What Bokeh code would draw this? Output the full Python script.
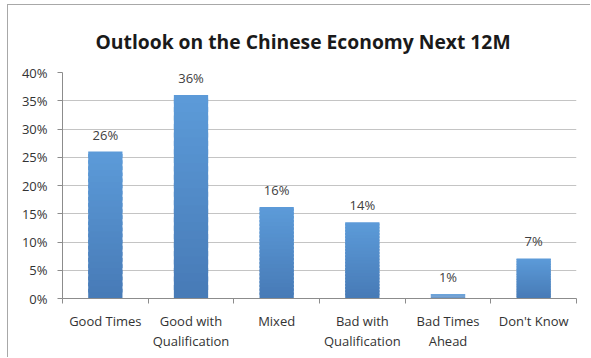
from bokeh.plotting import figure
from bokeh.models import ColumnDataSource, FixedTicker, PrintfTickFormatter, Range1d
from bokeh.embed import file_html
from bokeh.resources import INLINE
from bokeh.core.properties import value

categories = ["Good Times", "Good with\nQualification", "Mixed",
              "Bad with\nQualification", "Bad Times\nAhead", "Don't Know"]
values = [26.0, 36.0, 16.2, 13.5, 0.8, 7.1]
value_labels = ["26%", "36%", "16%", "14%", "1%", "7%"]
y_ticks = [0, 5, 10, 15, 20, 25, 30, 35, 40]

FONT = "Open Sans"
n = len(categories)
xs = [i + 0.5 for i in range(n)]

# vertical gradient (dark bottom -> light top), rendered as overlapping slices
TOP_RGB = (0x5c, 0x9b, 0xd9)
BOT_RGB = (0x47, 0x7a, 0xb6)
NSLICE = 24
sx, sb, st, sc = [], [], [], []
for x, v in zip(xs, values):
    for k in range(NSLICE):
        t = (k + 0.5) / NSLICE
        rgb = tuple(round(b + (a - b) * t) for a, b in zip(TOP_RGB, BOT_RGB))
        sx.append(x)
        sb.append(v * k / NSLICE)
        st.append(v * min(k + 1.6, NSLICE) / NSLICE)
        sc.append("#%02x%02x%02x" % rgb)
slices = ColumnDataSource(dict(x=sx, bottom=sb, top=st, color=sc))
src = ColumnDataSource(dict(x=xs, top=values, lab=value_labels))

p = figure(width=583, height=353, output_backend="svg", toolbar_location=None,
           x_range=Range1d(0, n), y_range=Range1d(0, 40),
           min_border_left=54, min_border_right=15, min_border_top=67,
           min_border_bottom=60)
p.outline_line_color = None
p.styles = {"border-left": "1px solid #a8a8a8", "border-top": "1px solid #a8a8a8",
            "margin-left": "7px", "margin-top": "4px"}

p.title.text = "Outlook on the Chinese Economy Next 12M"
p.title.text_font = FONT
p.title.text_font_size = "19.3px"
p.title.text_font_style = "bold"
p.title.text_color = "#1a1a1a"
p.title.align = "left"
p.title.offset = 33
p.title.standoff = 36

p.vbar(x="x", top="top", bottom="bottom", width=0.4, source=slices,
       fill_color="color", line_color=None)
p.text(x="x", y="top", text="lab", source=src, text_align="center",
       text_baseline="alphabetic", y_offset=-17, text_font=value(FONT),
       text_font_size="13px", text_color="#404040")

# x axis: labels at centers, tick marks at category boundaries
xa = p.xaxis[0]
xa.ticker = FixedTicker(ticks=xs, minor_ticks=list(range(n + 1)))
xa.major_label_overrides = {x: c for x, c in zip(xs, categories)}
xa.major_tick_line_color = None
xa.major_tick_out = 0
xa.minor_tick_out = 5
xa.minor_tick_in = 0
xa.minor_tick_line_color = "#8c8c8c"
xa.axis_line_color = "#8c8c8c"
xa.major_label_text_font = FONT
xa.major_label_text_font_size = "13px"
xa.major_label_text_color = "#333333"
xa.major_label_text_line_height = 1.15
xa.major_label_standoff = 8

ya = p.yaxis[0]
ya.ticker = FixedTicker(ticks=y_ticks, minor_ticks=[])
ya.formatter = PrintfTickFormatter(format="%d%%")
ya.axis_line_color = "#8c8c8c"
ya.major_tick_line_color = "#8c8c8c"
ya.major_tick_out = 5
ya.major_tick_in = 0
ya.minor_tick_line_color = None
ya.major_label_text_font = FONT
ya.major_label_text_font_size = "13px"
ya.major_label_text_color = "#333333"
ya.major_label_standoff = 10

p.xgrid.grid_line_color = None
p.ygrid.grid_line_color = "#c4c4c4"
p.ygrid.ticker = FixedTicker(ticks=y_ticks)

open("out.html", "w").write(file_html(p, INLINE))
